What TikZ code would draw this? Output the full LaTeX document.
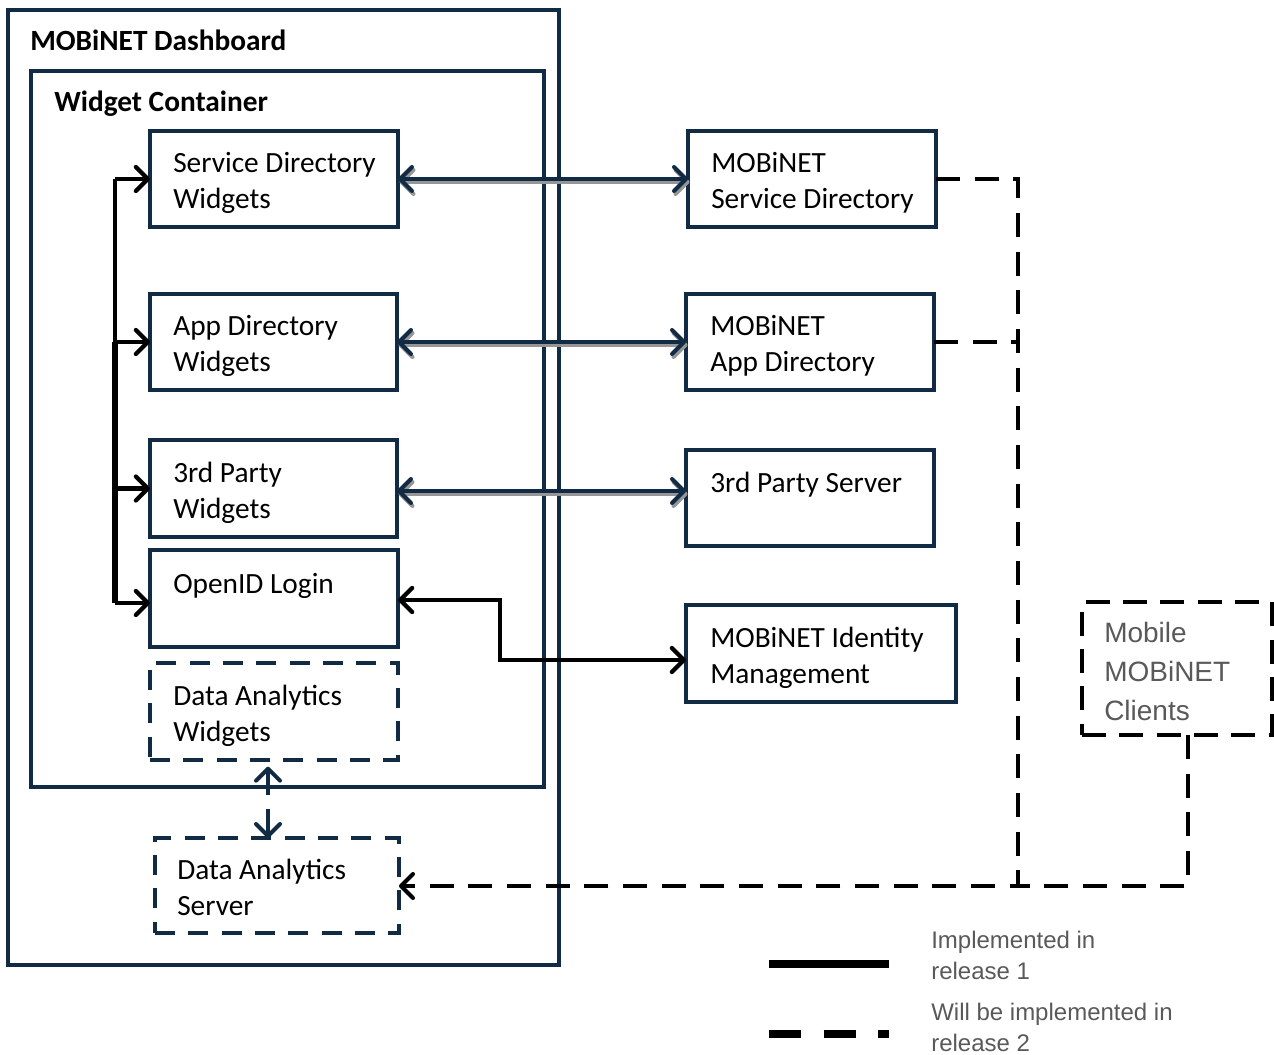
\documentclass[tikz,border=0pt]{standalone}
\usepackage{fontspec}
\setmainfont{Carlito}
\newfontfamily\legfont{Liberation Sans}
\usetikzlibrary{arrows.meta,calc}
\definecolor{navy}{RGB}{17,43,69}
\definecolor{shade}{RGB}{150,150,150}
\definecolor{legray}{RGB}{89,89,89}
\begin{document}
\begin{tikzpicture}[x=0.75pt,y=-0.75pt,
  sz/.style 2 args={minimum width=#1*0.75pt,minimum height=#2*0.75pt},
  box/.style={draw=navy,line width=3pt,inner sep=0pt,outer sep=0pt,anchor=north west,rectangle},
  dbox/.style={box,dash pattern=on 15pt off 10pt},
  txt/.style={inner sep=0pt,anchor=north west,align=left,font=\fontsize{22}{27}\selectfont},
  ttl/.style={inner sep=0pt,anchor=base west,font=\fontsize{22}{27}\selectfont\bfseries},
  legtxt/.style={inner sep=0pt,anchor=north west,align=left,text=legray,font=\legfont\fontsize{18}{23.25}\selectfont},
  mobtxt/.style={inner sep=0pt,anchor=north west,align=left,text=legray,font=\legfont\fontsize{21}{29.25}\selectfont},
  >={Straight Barb[length=9pt,width=18pt,round]},
  navyarr/.style={draw=navy,line width=3pt,<->},
  shadowarr/.style={draw=shade,line width=3pt,<->},
  blkarr/.style={draw=black,line width=3.2pt},
  blkdash/.style={draw=black,line width=3pt,dash pattern=on 18pt off 11pt}
]
\useasboundingbox (0,0) rectangle (1274,1055);

% containers
\node[box,line width=3.3pt,sz={551}{955}] (dash) at (8,10) {};
\node[ttl] (dasht) at (30,51) {MOBiNET Dashboard};
\node[box,line width=3.3pt,sz={513}{716}] (wc) at (31,71) {};
\node[ttl] (wct) at (54,112) {Widget Container};

% widget boxes
\node[box,sz={248}{96}] (sdw) at (150,131) {};
\node[txt] (sdwt) at (173,146.8) {\strut Service Directory\\Widgets};
\node[box,sz={247}{96}] (adw) at (150,294) {};
\node[txt] (adwt) at (173,309.8) {\strut App Directory\\Widgets};
\node[box,sz={247}{97}] (tpw) at (150,440) {};
\node[txt] (tpwt) at (173,456.8) {\strut 3rd Party\\Widgets};
\node[box,sz={248}{97}] (oid) at (150,550) {};
\node[txt] (oidt) at (173,567.8) {\strut OpenID Login};
\node[dbox,sz={248}{97}] (daw) at (150,663) {};
\node[txt] (dawt) at (173,679.8) {\strut Data Analytics\\Widgets};
\node[dbox,sz={244}{95}] (das) at (155,838) {};
\node[txt] (dast) at (177,853.8) {\strut Data Analytics\\Server};

% servers
\node[box,sz={248}{96}] (msd) at (688,131) {};
\node[txt] (msdt) at (711,146.8) {\strut MOBiNET\\Service Directory};
\node[box,sz={248}{96}] (mad) at (686,294) {};
\node[txt] (madt) at (710,309.8) {\strut MOBiNET\\App Directory};
\node[box,sz={248}{96}] (tps) at (686,450) {};
\node[txt] (tpst) at (710,466.8) {\strut 3rd Party Server};
\node[box,sz={270}{97}] (idm) at (686,605) {};
\node[txt] (idmt) at (710,621.8) {\strut MOBiNET Identity\\Management};

% mobile clients
\node[box,draw=black,dash pattern=on 18pt off 10pt,sz={190}{133}] (mob) at (1082,602) {};
\node[mobtxt] (mobt) at (1104,614.7) {\strut Mobile\\MOBiNET\\Clients};

% left bus
\coordinate (busTop) at (115,179);
\coordinate (busMid) at (115,342);
\coordinate (busBot) at (115,603);
\draw[blkarr] (busTop) -- (busMid);
\draw[blkarr,line width=4.6pt] (busMid) -- (busBot);
\draw[blkarr,->] (busTop) -- (sdw.west);
\draw[blkarr,->] (busMid) -- (adw.west);
\draw[blkarr,->] (busMid |- tpw.west) -- (tpw.west);
\draw[blkarr,->] (busBot) -- (oid.west |- busBot);

% navy double arrows with shadow
\draw[shadowarr] ([shift={(1.5,3)}]sdw.east) -- ([shift={(1.5,3)}]msd.west);
\draw[navyarr] (sdw.east) -- (msd.west);
\draw[shadowarr] ([shift={(1.5,3)}]adw.east) -- ([shift={(1.5,3)}]mad.west);
\draw[navyarr] (adw.east) -- (mad.west);
\coordinate (tpsIn) at (tps.west |- 0,491);
\draw[shadowarr] ([shift={(1.5,3)}]tpw.east |- 0,491) -- ([shift={(1.5,3)}]tpsIn);
\draw[navyarr] (tpw.east |- 0,491) -- (tpsIn);

% OpenID <-> Identity
\coordinate (oidIn) at (oid.east |- 0,600);
\draw[blkarr,<->] (oidIn) -- (500,600) -- (500,660) -- (idm.west |- 0,660);

% data analytics widgets <-> server
\draw[navyarr,shorten <=5pt,dash pattern=on 18pt off 11pt] (daw.south -| 268,0) -- (das.north -| 268,0);

% release 2 dashed connections
\draw[blkdash,->] (msd.east) -- (1018,179) -- (1018,886) -- (das.east |- 0,886);
\draw[blkdash] (mad.east) -- (mad.east -| 1018,0);
\draw[blkdash] ([xshift=8.25pt]mob.south) -- (1188,886) -- (1018,886);

% legend
\coordinate (l1a) at (769,964);
\coordinate (l1b) at (889,964);
\coordinate (l2a) at (769,1034);
\coordinate (l2b) at (889,1034);
\draw[line width=6pt] (l1a) -- (l1b);
\draw[line width=6pt,dash pattern=on 24pt off 17pt] (l2a) -- (l2b);
\node[legtxt] (leg1) at (931,926.8) {\strut Implemented in\\release 1};
\node[legtxt] (leg2) at (931,998.8) {\strut Will be implemented in\\release 2};
\end{tikzpicture}
\end{document}
